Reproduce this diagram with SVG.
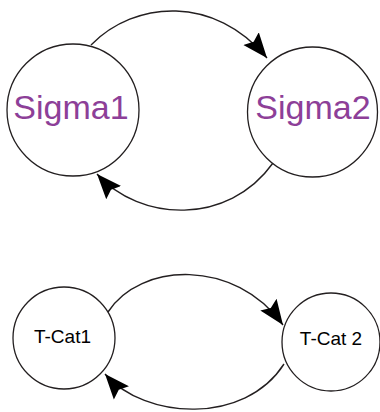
<svg xmlns="http://www.w3.org/2000/svg" width="380" height="412" viewBox="0 0 380 412">
  <style>
    .node { fill: #ffffff; stroke: #231f20; stroke-width: 1.3; }
    .edge { fill: none; stroke: #231f20; stroke-width: 1.4; marker-end: url(#arrow); }
    .big { font-family: "Liberation Sans", Arial, sans-serif; font-size: 34px; fill: #8d3f98; text-anchor: middle; }
    .small { font-family: "Liberation Sans", Arial, sans-serif; font-size: 19px; fill: #000000; text-anchor: middle; }
  </style>
  <defs>
    <marker id="arrow" viewBox="0 0 25 22" refX="25" refY="11" markerWidth="25" markerHeight="22" markerUnits="userSpaceOnUse" orient="auto">
      <path d="M0,1 L25,11 L0,21 L4,11 Z" fill="#000000"/>
    </marker>
  </defs>
  <rect width="380" height="412" fill="#ffffff"/>
  <g id="connectors">
    <path class="edge" d="M91,45 C135,0 215,-5 267,58"/>
    <path class="edge" d="M273,163 C228,226 140,222 97,174"/>
    <path class="edge" d="M108,312 C140,262 235,258 283,325"/>
    <path class="edge" d="M284,364 C245,425 145,420 105,374"/>
  </g>
  <g id="sigma1">
    <circle class="node" cx="73" cy="110" r="66"/>
    <text class="big" x="71" y="119">Sigma1</text>
  </g>
  <g id="sigma2">
    <circle class="node" cx="312.5" cy="112" r="65"/>
    <text class="big" x="313" y="119">Sigma2</text>
  </g>
  <g id="tcat1">
    <circle class="node" cx="64" cy="338" r="51"/>
    <text class="small" x="62.5" y="343">T-Cat1</text>
  </g>
  <g id="tcat2">
    <circle class="node" cx="331" cy="342" r="49"/>
    <text class="small" x="331" y="345">T-Cat 2</text>
  </g>
</svg>
